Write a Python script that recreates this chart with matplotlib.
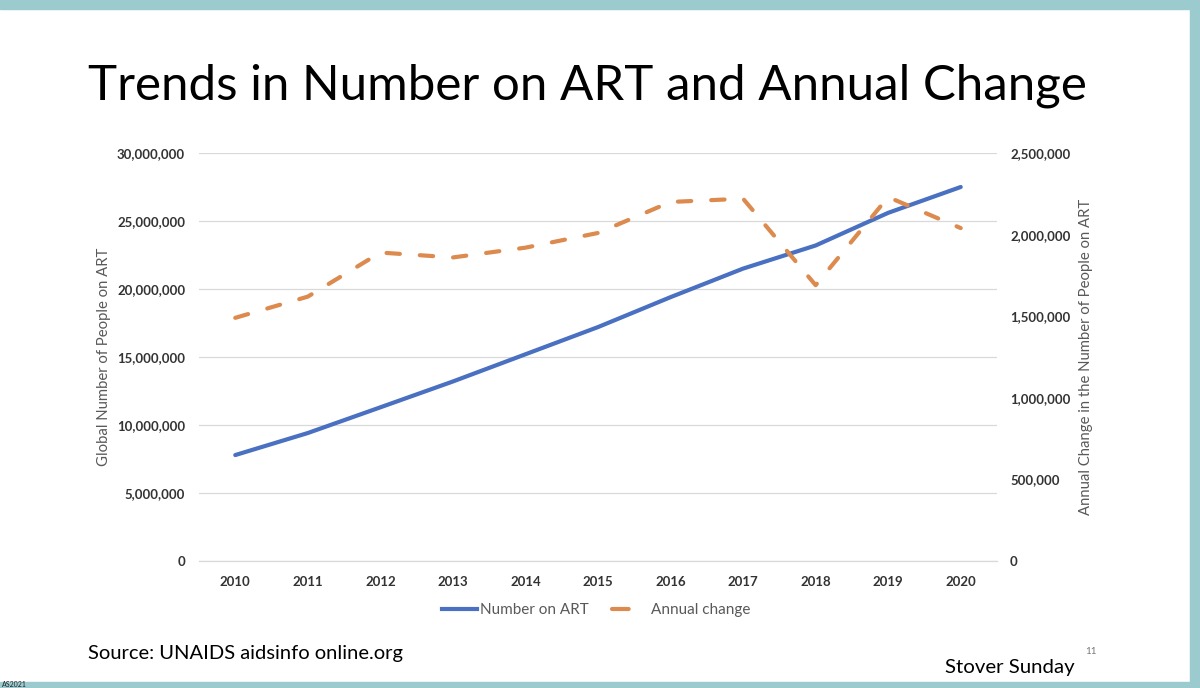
import matplotlib
matplotlib.use("Agg")
import matplotlib.pyplot as plt
from matplotlib.ticker import FuncFormatter
from matplotlib.patches import Rectangle
from matplotlib.lines import Line2D

years = ["2010", "2011", "2012", "2013", "2014", "2015", "2016", "2017", "2018", "2019", "2020"]
number_on_art = [7.79e6, 9.41e6, 11.3e6, 13.2e6, 15.2e6, 17.2e6, 19.4e6, 21.5e6, 23.2e6, 25.6e6, 27.5e6]
annual_change = [1.49e6, 1.62e6, 1.89e6, 1.86e6, 1.92e6, 2.01e6, 2.20e6, 2.22e6, 1.69e6, 2.23e6, 2.04e6]

left_ticks = [0, 5e6, 10e6, 15e6, 20e6, 25e6, 30e6]
right_ticks = [0, 5e5, 1e6, 1.5e6, 2e6, 2.5e6]

BLUE = "#4A70C2"
ORANGE = "#DC8A4E"
GRAY = "#595959"
TEAL = "#9BCACF"
FONT = ["Lato", "DejaVu Sans"]

plt.rcParams["font.family"] = FONT

fig = plt.figure(figsize=(12, 6.88), dpi=100)
fig.patch.set_facecolor("white")

# slide border bands
fig.add_artist(Rectangle((0, 1 - 9 / 688), 1, 9 / 688, transform=fig.transFigure, color=TEAL, zorder=0))
fig.add_artist(Rectangle((1190 / 1200, 0), 10 / 1200, 1, transform=fig.transFigure, color=TEAL, zorder=0))
fig.add_artist(Rectangle((0, 0), 1, 6 / 688, transform=fig.transFigure, color=TEAL, zorder=0))

ax = fig.add_axes([199 / 1200, 1 - 561 / 688, 798 / 1200, 408 / 688])
ax2 = ax.twinx()

x = list(range(len(years)))
ORANGE_DASH = (3.2, 4.8)
ax.plot(x, number_on_art, color=BLUE, lw=3.0, solid_capstyle="round", solid_joinstyle="round", zorder=3)
ax2.plot(x, annual_change, color=ORANGE, lw=3.0, dashes=ORANGE_DASH, dash_capstyle="round", zorder=3)

ax.set_xlim(-0.5, len(years) - 0.5)
ax.set_ylim(0, 30e6)
ax2.set_ylim(0, 2.5e6)
ax.set_yticks(left_ticks)
ax2.set_yticks(right_ticks)
fmt = FuncFormatter(lambda v, p: f"{int(v):,}")
ax.yaxis.set_major_formatter(fmt)
ax2.yaxis.set_major_formatter(fmt)
ax.set_xticks(x)
ax.set_xticklabels(years)

ax.grid(axis="y", color="#D9D9D9", lw=0.9)
ax.set_axisbelow(True)
for a in (ax, ax2):
    for s in a.spines.values():
        s.set_visible(False)
ax.spines["bottom"].set_visible(True)
ax.spines["bottom"].set_color("#D9D9D9")
ax.spines["bottom"].set_linewidth(0.9)

TICK_FS = 9.5
ax.tick_params(axis="both", length=0, labelsize=TICK_FS, labelcolor="#333333")
ax.tick_params(axis="y", pad=10)
ax.tick_params(axis="x", pad=11)
ax2.tick_params(axis="y", length=0, labelsize=TICK_FS, labelcolor="#333333", pad=9.4)
for lab in ax.get_xticklabels() + ax.get_yticklabels() + ax2.get_yticklabels():
    lab.set_fontweight("bold")

ax.set_ylabel("Global Number of People on ART", fontsize=10.7, color=GRAY)
ax2.set_ylabel("Annual Change in the Number of People on ART", fontsize=10.7, color=GRAY)
ax.yaxis.set_label_coords((104 - 199) / 798, 0.5)
ax2.yaxis.set_label_coords((1086 - 199) / 798, 0.5)
ax.yaxis.label.set_va("center")
ax2.yaxis.label.set_va("center")

handles = [Line2D([], [], color=BLUE, lw=3.0),
           Line2D([], [], color=ORANGE, lw=3.0, dashes=(4.0, 20.0), dash_capstyle="round")]
leg = fig.legend(handles, ["Number on ART", "Annual change"], loc="center",
                 bbox_to_anchor=(596 / 1200, 1 - 610 / 688), ncol=2, frameon=False,
                 fontsize=11, handlelength=2.3, handletextpad=0.25, columnspacing=1.5)
for t in leg.get_texts():
    t.set_color(GRAY)

fig.text(88 / 1200, 1 - 86 / 688, "Trends in Number on ART and Annual Change",
         fontsize=35.5, color="black", ha="left", va="center")
fig.text(88 / 1200, 1 - 653 / 688, "Source: UNAIDS aidsinfo online.org",
         fontsize=14.5, color="black", ha="left", va="center")
fig.text(1075 / 1200, 1 - 668 / 688, "Stover Sunday",
         fontsize=14.7, color="black", ha="right", va="center")
fig.text(1085 / 1200, 1 - 651 / 688, "11", fontsize=7, color="#777777", ha="left", va="center")
fig.text(2 / 1200, 3.2 / 688, "AS2021", fontsize=5, color="#222222", ha="left", va="center")

fig.savefig("out.png", dpi=100, facecolor="white")
